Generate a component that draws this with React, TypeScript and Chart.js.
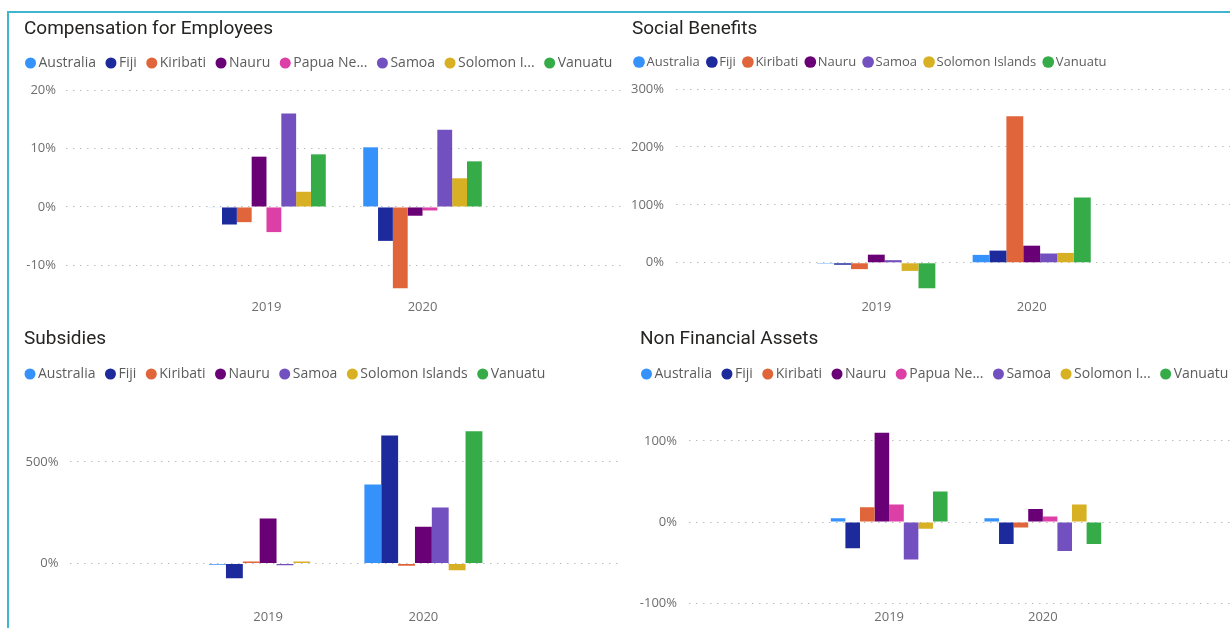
import React, { useEffect, useRef } from 'react';
import { Chart, registerables } from 'chart.js';

Chart.register(...registerables);

// ---------- data ----------
const years = ['2019', '2020'];

const countries8 = ['Australia', 'Fiji', 'Kiribati', 'Nauru', 'Papua New Guinea', 'Samoa', 'Solomon Islands', 'Vanuatu'];
const legend8Short = ['Australia', 'Fiji', 'Kiribati', 'Nauru', 'Papua Ne...', 'Samoa', 'Solomon I...', 'Vanuatu'];
const countries7 = ['Australia', 'Fiji', 'Kiribati', 'Nauru', 'Samoa', 'Solomon Islands', 'Vanuatu'];

const colors8 = ['#3592FA', '#1C2A9C', '#E0653B', '#6A0075', '#DC3FA5', '#7350C0', '#D8B024', '#36AC49'];
const colors7 = ['#3592FA', '#1C2A9C', '#E0653B', '#6A0075', '#7350C0', '#D8B024', '#36AC49'];

// Compensation for Employees (%), per country in countries8 order
const compensation2019 = [-0.1, -3.0, -2.6, 8.6, -4.3, 16.0, 2.6, 9.0];
const compensation2020 = [10.2, -5.8, -13.9, -1.5, -0.6, 13.2, 4.9, 7.8];
const compensationTicks = [-10, 0, 10, 20];

// Social Benefits (%), countries7 order
const social2019 = [-1.5, -3.4, -11, 14, 4.5, -14, -44];
const social2020 = [13.6, 21, 253, 29.5, 16, 17, 112.5];
const socialTicks = [0, 100, 200, 300];

// Subsidies (%), countries7 order
const subsidies2019 = [-6, -72, 10, 221, -8, 10, 0];
const subsidies2020 = [389, 629, -11, 181, 275, -33, 650];
const subsidiesTicks = [0, 500];

// Non Financial Assets (%), countries8 order
const nfa2019 = [4.9, -32, 18.4, 110, 21.6, -46, -8.2, 37.6];
const nfa2020 = [4.9, -27, -6.5, 16, 7, -35.5, 21.6, -27];
const nfaTicks = [-100, 0, 100];

// ---------- panel layout ----------
type PanelCfg = {
  title: string;
  names: string[];
  legendNames: string[];
  colors: string[];
  v2019: number[];
  v2020: number[];
  ticks: number[];
  yMin: number;
  yMax: number;
  left: number;
  top: number;
  width: number;
  height: number;
  padLeft: number;
  titleShift: number;
  yWidth: number;
  rightBox: number;
  yPad: number;
  xPad: number;
  half: number;
  titlePadTop: number;
  titlePadBottom: number;
  legendFont: number;
  legendBoxHeight: number;
  legendPad: number;
  spacer: number;
};

const panels: PanelCfg[] = [
  {
    title: 'Compensation for Employees', names: countries8, legendNames: legend8Short, colors: colors8,
    v2019: compensation2019, v2020: compensation2020, ticks: compensationTicks, yMin: -14.2, yMax: 20,
    left: 8, top: 14, width: 627, height: 310, padLeft: 7.5, titleShift: 8.5, yWidth: 50.5, rightBox: 12, yPad: 10, xPad: 9.2,
    half: 1.785, titlePadTop: 3.6, titlePadBottom: 1.6, legendFont: 14, legendBoxHeight: 7.8, legendPad: 14, spacer: 8.8,
  },
  {
    title: 'Social Benefits', names: countries7, legendNames: countries7, colors: colors7,
    v2019: social2019, v2020: social2020, ticks: socialTicks, yMin: -47, yMax: 300,
    left: 625, top: 14, width: 619, height: 310, padLeft: 2, titleShift: 5, yWidth: 49, rightBox: 12, yPad: 12, xPad: 9.2,
    half: 1.789, titlePadTop: 3.6, titlePadBottom: 4.1, legendFont: 13, legendBoxHeight: 8.3, legendPad: 11, spacer: 9.3,
  },
  {
    title: 'Subsidies', names: countries7, legendNames: countries7, colors: colors7,
    v2019: subsidies2019, v2020: subsidies2020, ticks: subsidiesTicks, yMin: -196, yMax: 799,
    left: 8, top: 324, width: 626, height: 307, padLeft: 7, titleShift: 9, yWidth: 54.5, rightBox: 12, yPad: 11, xPad: 6,
    half: 1.779, titlePadTop: 3.6, titlePadBottom: 2.6, legendFont: 14, legendBoxHeight: 7.8, legendPad: 14, spacer: 8.8,
  },
  {
    title: 'Non Financial Assets', names: countries8, legendNames: legend8Short, colors: colors8,
    v2019: nfa2019, v2020: nfa2020, ticks: nfaTicks, yMin: -100, yMax: 149,
    left: 625, top: 324, width: 630, height: 307, padLeft: 6.5, titleShift: 8.5, yWidth: 57.5, rightBox: 12, yPad: 12, xPad: 6,
    half: 1.803, titlePadTop: 3.6, titlePadBottom: 2.6, legendFont: 14, legendBoxHeight: 7.8, legendPad: 14, spacer: 8.8,
  },
];

const tickColor = '#6e6e6e';
const legendColor = '#5c5c5c';

// moves the title horizontally without moving the legend
const shiftTitlePlugin = {
  id: 'shiftTitle',
  afterLayout(chart: any, _args: any, opts: any) {
    const tb = chart.titleBlock;
    if (tb && opts && opts.shift) {
      tb.left += opts.shift;
      tb.right += opts.shift;
    }
  },
};

function Panel({ cfg }: { cfg: PanelCfg }) {
  const ref = useRef<HTMLCanvasElement | null>(null);

  useEffect(() => {
    if (!ref.current) return;
    const datasets = cfg.names.map((name, i) => ({
      label: name,
      data: [
        { x: 0, y: cfg.v2019[i] },
        { x: 1, y: cfg.v2020[i] },
      ],
      backgroundColor: cfg.colors[i],
      borderWidth: 0,
      categoryPercentage: 0.76,
      barPercentage: 1,
    }));

    const chart = new Chart(ref.current, {
      type: 'bar',
      data: { datasets },
      plugins: [shiftTitlePlugin],
      options: {
        animation: false,
        responsive: false,
        maintainAspectRatio: false,
        layout: { padding: { left: cfg.padLeft, right: 0, top: 0, bottom: 0 } },
        plugins: {
          shiftTitle: { shift: cfg.titleShift },
          title: {
            display: true,
            text: cfg.title,
            align: 'start',
            color: '#252423',
            font: { family: 'Roboto', size: 19, weight: 'normal' },
            padding: { top: cfg.titlePadTop, bottom: cfg.titlePadBottom },
          },
          subtitle: {
            display: true,
            text: '',
            weight: 500,
            font: { size: 1 },
            padding: { top: cfg.spacer, bottom: 0 },
          },
          legend: {
            display: true,
            position: 'top',
            align: 'start',
            labels: {
              usePointStyle: true,
              pointStyle: 'circle',
              boxWidth: 2,
              boxHeight: cfg.legendBoxHeight,
              padding: cfg.legendPad,
              color: legendColor,
              font: { family: '"Open Sans"', size: cfg.legendFont },
              generateLabels: (c: any) =>
                c.data.datasets.map((ds: any, i: number) => ({
                  text: cfg.legendNames[i],
                  fillStyle: ds.backgroundColor,
                  strokeStyle: ds.backgroundColor,
                  lineWidth: 0,
                  pointStyle: 'circle',
                  hidden: false,
                  datasetIndex: i,
                  fontColor: legendColor,
                })),
            },
          },
          tooltip: { enabled: false },
        },
        scales: {
          x: {
            type: 'linear',
            offset: false,
            min: 0.5 - cfg.half,
            max: 0.5 + cfg.half,
            grid: { display: false, drawTicks: false },
            border: { display: false },
            afterBuildTicks: (s: any) => {
              s.ticks = years.map((_, i) => ({ value: i }));
            },
            ticks: {
              autoSkip: false,
              maxRotation: 0,
              padding: cfg.xPad,
              color: tickColor,
              font: { family: '"Open Sans"', size: 13 },
              callback: (v: any) => years[v as number] ?? '',
            },
          },
          y: {
            type: 'linear',
            min: cfg.yMin,
            max: cfg.yMax,
            afterBuildTicks: (s: any) => {
              s.ticks = cfg.ticks.map((v) => ({ value: v }));
            },
            afterFit: (s: any) => {
              s.width = cfg.yWidth;
            },
            grid: { color: '#bdbdbd', lineWidth: 1, drawTicks: false },
            border: { display: false, dash: [1.5, 5.5] },
            ticks: {
              padding: cfg.yPad,
              color: tickColor,
              font: { family: '"Open Sans"', size: 13 },
              callback: (v: any) => `${v}%`,
            },
          },
          // empty right-hand box: keeps the plot edge while giving the legend room
          yRight: {
            type: 'linear',
            position: 'right',
            display: true,
            min: 0,
            max: 1,
            afterFit: (s: any) => {
              s.width = cfg.rightBox;
            },
            grid: { display: false, drawTicks: false, drawOnChartArea: false },
            border: { display: false },
            ticks: { display: false },
          },
        },
      } as any,
    });
    return () => chart.destroy();
  }, [cfg]);

  return (
    <canvas
      ref={ref}
      width={cfg.width}
      height={cfg.height}
      style={{ position: 'absolute', left: cfg.left, top: cfg.top, width: cfg.width, height: cfg.height }}
    />
  );
}

export default function App() {
  return (
    <div
      style={{
        position: 'fixed',
        left: 0,
        top: 0,
        width: 1230,
        height: 628,
        overflow: 'hidden',
        background: '#ffffff',
      }}
    >
      <div
        style={{
          position: 'absolute',
          left: 7,
          top: 11,
          width: 1240,
          height: 640,
          borderLeft: '2px solid #3FB5D0',
          borderTop: '2px solid #3FB5D0',
        }}
      />
      {panels.map((p) => (
        <Panel key={p.title} cfg={p} />
      ))}
    </div>
  );
}
